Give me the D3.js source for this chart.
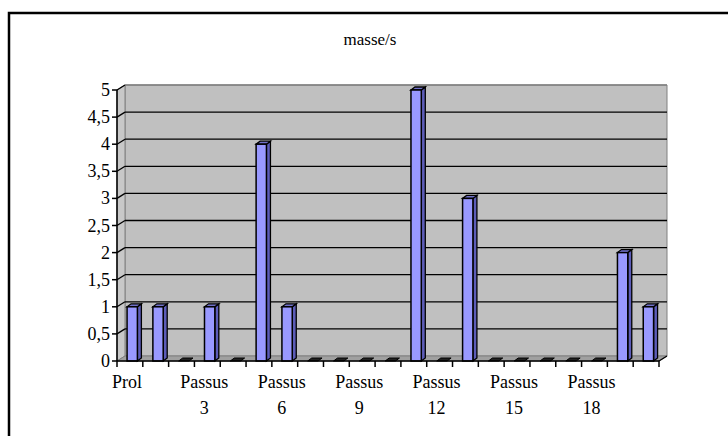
<!DOCTYPE html>
<html><head><meta charset="utf-8">
<script src="https://cdn.jsdelivr.net/npm/d3@7"></script>
<style>body{margin:0;background:#fff;}svg{display:block;}</style>
</head><body>
<svg id="c" width="728" height="436"></svg>
<script>
const title = "masse/s";
const categories = ["Prol","Passus 1","Passus 2","Passus 3","Passus 4","Passus 5","Passus 6","Passus 7","Passus 8","Passus 9","Passus 10","Passus 11","Passus 12","Passus 13","Passus 14","Passus 15","Passus 16","Passus 17","Passus 18","Passus 19","Passus 20"];
const values = [1,1,0,1,0,4,1,0,0,0,0,5,0,3,0,0,0,0,0,2,1];
const yTickValues = [0,0.5,1,1.5,2,2.5,3,3.5,4,4.5,5];
const yTickLabels = ["0","0,5","1","1,5","2","2,5","3","3,5","4","4,5","5"];
const labelEvery = 3;

const FONT = "'Liberation Serif', 'Times New Roman', 'DejaVu Serif', serif";
const svg = d3.select("#c");
// outer frame
svg.append("rect").attr("x",9).attr("y",13).attr("width",740).attr("height",460)
  .attr("fill","#fff").attr("stroke","#000").attr("stroke-width",2.5);
svg.append("text").attr("x",370).attr("y",45).attr("text-anchor","middle")
  .attr("font-family",FONT).attr("font-size",17).text(title);

const x = d3.scaleBand().domain(categories).range([117,659]).padding(0);
const y = d3.scaleLinear().domain([0,5]).range([361,90]);
const DX = 8, DY = -5;      // wall depth
const bdx = 4, bdy = -3;    // bar depth
const bw = x.bandwidth();
const x0 = x.range()[0], x1 = x.range()[1];

const poly = pts => "M" + pts.map(p=>p.join(",")).join("L") + "Z";

// back wall
svg.append("path").attr("d", poly([[x0+DX,y(0)+DY],[x0+DX,y(5)+DY],[x1+DX,y(5)+DY],[x1+DX,y(0)+DY]]))
  .attr("fill","#c0c0c0").attr("stroke","#808080").attr("stroke-width",1);
// side wall
svg.append("path").attr("d", poly([[x0,y(0)],[x0,y(5)],[x0+DX,y(5)+DY],[x0+DX,y(0)+DY]]))
  .attr("fill","#c8c8c8").attr("stroke","#808080").attr("stroke-width",1);
// floor
svg.append("path").attr("d", poly([[x0,y(0)],[x1,y(0)],[x1+DX,y(0)+DY],[x0+DX,y(0)+DY]]))
  .attr("fill","#a0a0a0").attr("stroke","#808080").attr("stroke-width",1);

// gridlines (back wall + side wall diagonals)
yTickValues.filter(v=>v>0).forEach(v=>{
  svg.append("line").attr("x1",x0+DX).attr("x2",x1+DX).attr("y1",y(v)+DY).attr("y2",y(v)+DY)
    .attr("stroke", v===5 ? "#808080" : "#000").attr("stroke-width",1.3);
  svg.append("line").attr("x1",x0).attr("x2",x0+DX).attr("y1",y(v)).attr("y2",y(v)+DY)
    .attr("stroke","#000").attr("stroke-width",1.3);
});

// bars
const g = svg.append("g");
categories.forEach((c,i)=>{
  const v = values[i];
  const fx0 = x(c) + bw*0.39, fx1 = x(c) + bw*0.79;
  const yb = y(0), yt = y(v);
  if (v === 0) {
    g.append("path").attr("d", poly([[fx0,yb],[fx1,yb],[fx1+bdx,yb+bdy],[fx0+bdx,yb+bdy]]))
      .attr("fill","#222").attr("stroke","#000").attr("stroke-width",1);
    return;
  }
  g.append("path").attr("d", poly([[fx1,yb],[fx1,yt],[fx1+bdx,yt+bdy],[fx1+bdx,yb+bdy]]))
    .attr("fill","#5c5cb8").attr("stroke","#000").attr("stroke-width",1.3);
  g.append("path").attr("d", poly([[fx0,yt],[fx1,yt],[fx1+bdx,yt+bdy],[fx0+bdx,yt+bdy]]))
    .attr("fill","#7070c8").attr("stroke","#000").attr("stroke-width",1.3);
  g.append("rect").attr("x",fx0).attr("y",yt).attr("width",fx1-fx0).attr("height",yb-yt)
    .attr("fill","#9999ff").attr("stroke","#000").attr("stroke-width",1.5);
});

// y axis
svg.append("line").attr("x1",x0).attr("x2",x0).attr("y1",y(0)).attr("y2",y(5))
  .attr("stroke","#000").attr("stroke-width",1.5);
yTickValues.forEach((v,i)=>{
  svg.append("line").attr("x1",x0-5).attr("x2",x0).attr("y1",y(v)).attr("y2",y(v))
    .attr("stroke","#000").attr("stroke-width",1.5);
  svg.append("text").attr("x",x0-7).attr("y",y(v)+6).attr("text-anchor","end")
    .attr("font-family",FONT).attr("font-size",18).text(yTickLabels[i]);
});

// x axis
svg.append("line").attr("x1",x0).attr("x2",x1).attr("y1",y(0)).attr("y2",y(0))
  .attr("stroke","#000").attr("stroke-width",1.5);
svg.append("line").attr("x1",x1).attr("x2",x1+DX).attr("y1",y(0)).attr("y2",y(0)+DY)
  .attr("stroke","#000").attr("stroke-width",1.3);
categories.forEach((c,i)=>{
  svg.append("line").attr("x1",x(c)).attr("x2",x(c)).attr("y1",y(0)).attr("y2",y(0)+6)
    .attr("stroke","#000").attr("stroke-width",1.5);
});
svg.append("line").attr("x1",x1).attr("x2",x1).attr("y1",y(0)).attr("y2",y(0)+6)
  .attr("stroke","#000").attr("stroke-width",1.5);
categories.forEach((c,i)=>{
  if (i % labelEvery !== 0) return;
  const cx = x(c) + bw/2 - 3;
  const parts = c.split(" ");
  const t = svg.append("text").attr("x",cx).attr("y",388).attr("text-anchor","middle")
    .attr("font-family",FONT).attr("font-size",18);
  parts.forEach((p,j)=>{
    t.append("tspan").attr("x",cx).attr("dy", j===0 ? 0 : 26).text(p);
  });
});
</script>
</body></html>
